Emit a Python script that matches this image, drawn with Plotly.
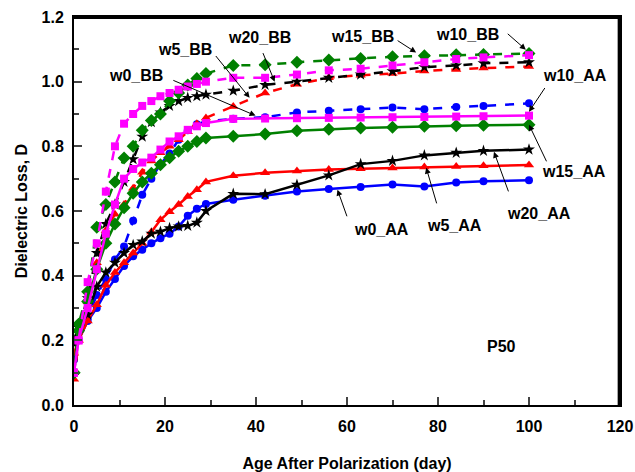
import plotly.graph_objects as go

days = [0, 1, 3, 5, 7, 9, 11, 13, 15, 17, 19, 21, 23, 25, 27, 29, 35, 42, 49, 56, 63, 70, 77, 84, 90, 100]

w0_AA = [0.14, 0.20, 0.26, 0.30, 0.35, 0.39, 0.43, 0.46, 0.48, 0.50, 0.516, 0.53, 0.552, 0.585, 0.607, 0.622, 0.635, 0.647, 0.66, 0.668, 0.674, 0.682, 0.676, 0.688, 0.692, 0.695]
w0_BB = [0.15, 0.20, 0.27, 0.34, 0.39, 0.45, 0.49, 0.57, 0.65, 0.70, 0.745, 0.778, 0.82, 0.85, 0.868, 0.878, 0.885, 0.89, 0.905, 0.91, 0.915, 0.92, 0.915, 0.922, 0.925, 0.933]
w5_AA = [0.16, 0.20, 0.26, 0.31, 0.37, 0.41, 0.44, 0.47, 0.50, 0.535, 0.573, 0.598, 0.62, 0.645, 0.666, 0.69, 0.709, 0.718, 0.724, 0.728, 0.731, 0.733, 0.736, 0.738, 0.740, 0.742]
w5_BB = [0.08, 0.20, 0.32, 0.44, 0.54, 0.59, 0.62, 0.67, 0.72, 0.755, 0.78, 0.80, 0.82, 0.845, 0.87, 0.888, 0.923, 0.965, 0.992, 1.012, 1.02, 1.025, 1.033, 1.038, 1.042, 1.047]
w10_AA = [0.10, 0.20, 0.30, 0.42, 0.53, 0.62, 0.70, 0.73, 0.75, 0.765, 0.79, 0.815, 0.831, 0.851, 0.862, 0.872, 0.885, 0.886, 0.887, 0.888, 0.889, 0.890, 0.891, 0.892, 0.893, 0.895]
w10_BB = [0.10, 0.20, 0.38, 0.50, 0.66, 0.80, 0.87, 0.90, 0.925, 0.94, 0.955, 0.965, 0.975, 0.985, 0.993, 1.0, 1.012, 1.012, 1.022, 1.035, 1.04, 1.05, 1.06, 1.07, 1.075, 1.082]
w15_AA = [0.10, 0.23, 0.32, 0.42, 0.50, 0.56, 0.61, 0.655, 0.69, 0.717, 0.743, 0.765, 0.785, 0.80, 0.815, 0.826, 0.831, 0.838, 0.848, 0.853, 0.857, 0.859, 0.862, 0.864, 0.865, 0.867]
w15_BB = [0.10, 0.25, 0.35, 0.55, 0.62, 0.69, 0.764, 0.80, 0.85, 0.88, 0.90, 0.94, 0.965, 0.99, 1.01, 1.025, 1.05, 1.052, 1.06, 1.067, 1.072, 1.077, 1.08, 1.083, 1.084, 1.087]
w20_AA = [0.20, 0.24, 0.28, 0.366, 0.41, 0.44, 0.47, 0.495, 0.506, 0.53, 0.536, 0.547, 0.552, 0.554, 0.564, 0.60, 0.653, 0.652, 0.681, 0.71, 0.745, 0.755, 0.772, 0.78, 0.786, 0.79]
w20_BB = [0.19, 0.24, 0.33, 0.47, 0.56, 0.62, 0.69, 0.76, 0.83, 0.875, 0.905, 0.925, 0.94, 0.95, 0.955, 0.96, 0.972, 0.99, 1.0, 1.012, 1.022, 1.032, 1.045, 1.05, 1.057, 1.06]

series = [
    ("w0_AA", w0_AA, "#0000FF", "circle", 8, "solid"),
    ("w0_BB", w0_BB, "#0000FF", "circle", 8, "dash"),
    ("w5_AA", w5_AA, "#FF0000", "triangle-up", 9, "solid"),
    ("w5_BB", w5_BB, "#FF0000", "triangle-up", 9, "dash"),
    ("w20_AA", w20_AA, "#000000", "star", 9, "solid"),
    ("w20_BB", w20_BB, "#000000", "star", 9, "dash"),
    ("w15_AA", w15_AA, "#008000", "diamond", 10, "solid"),
    ("w15_BB", w15_BB, "#008000", "diamond", 10, "dash"),
    ("w10_AA", w10_AA, "#FF00FF", "square", 8, "solid"),
    ("w10_BB", w10_BB, "#FF00FF", "square", 8, "dash"),
]

fig = go.Figure()
for name, vals, color, sym, size, dash in series:
    fig.add_trace(go.Scatter(
        x=days, y=vals, name=name, mode="lines+markers",
        line=dict(color=color, width=2.5, dash=dash),
        marker=dict(symbol=sym, size=size, color=color, line=dict(width=0)),
        showlegend=False))

font_b = dict(family="Liberation Sans, Arial, sans-serif", size=16, color="black", weight="bold")

# label text positions (data coords)
labels = [
    ("w0_BB", 13.6, 1.019), ("w5_BB", 24.3, 1.099), ("w20_BB", 40.8, 1.136),
    ("w15_BB", 63.4, 1.139), ("w10_BB", 86.4, 1.146), ("w10_AA", 110.0, 1.019),
    ("w15_AA", 109.9, 0.722), ("w20_AA", 102.3, 0.593), ("w5_AA", 83.6, 0.555),
    ("w0_AA", 67.5, 0.544), ("P50", 93.9, 0.18),
]
# arrows: (tail x, tail y, head x, head y)
arrows = [
    (21.5, 1.006, 39.9, 0.895), (30.9, 1.084, 38.6, 0.950), (41.4, 1.093, 44.1, 1.0),
    (70.8, 1.130, 75.2, 1.090), (95.0, 1.152, 99.3, 1.099), (103.7, 0.985, 100.0, 0.907),
    (104.0, 0.749, 100.0, 0.867), (95.6, 0.656, 92.3, 0.783), (79.8, 0.619, 77.4, 0.734),
    (60.1, 0.579, 57.9, 0.666),
]
annots = []
for t, x, y in labels:
    annots.append(dict(x=x, y=y, xref="x", yref="y", text=t,
                       showarrow=False, font=font_b))
for tx, ty, hx, hy in arrows:
    annots.append(dict(x=hx, y=hy, ax=tx, ay=ty, xref="x", yref="y", axref="x", ayref="y",
                       text="", showarrow=True, arrowhead=2, arrowsize=1.2, arrowwidth=1,
                       arrowcolor="black"))

border = [
    dict(type="line", xref="paper", yref="paper", x0=0.998, x1=0.998, y0=0, y1=1,
         line=dict(color="black", width=2.5), layer="above"),
    dict(type="line", xref="paper", yref="paper", x0=0, x1=1, y0=0.998, y1=0.998,
         line=dict(color="black", width=2.5), layer="above"),
]

fig.update_layout(
    width=635, height=472,
    margin=dict(l=74, r=15, t=17, b=67),
    paper_bgcolor="white", plot_bgcolor="white",
    font=font_b,
    annotations=annots,
    shapes=border,
    xaxis=dict(range=[0, 120], tick0=0, dtick=20, ticks="inside", ticklen=8, tickwidth=2,
               minor=dict(dtick=10, ticks="inside", ticklen=5, tickwidth=2),
               showline=True, linewidth=2, linecolor="black", mirror=True,
               showgrid=False, zeroline=False, automargin=False,
               tickfont=font_b, ticklabelstandoff=6, ticklabeloverflow="allow",
               title=dict(text="Age After Polarization (day)", font=font_b, standoff=26)),
    yaxis=dict(range=[0, 1.2], tick0=0, dtick=0.2, ticks="inside", ticklen=8, tickwidth=2,
               minor=dict(dtick=0.1, ticks="inside", ticklen=5, tickwidth=2),
               showline=True, linewidth=2, linecolor="black", mirror=True,
               showgrid=False, zeroline=False, tickformat=".1f", automargin=False,
               tickfont=font_b, ticklabelstandoff=5, ticklabeloverflow="allow",
               title=dict(text="Dielectric Loss, D", font=font_b, standoff=10)),
)

fig.write_html("out.html", config={"displayModeBar": False},
               post_script="document.body.style.margin='0';document.body.style.overflow='hidden';")
